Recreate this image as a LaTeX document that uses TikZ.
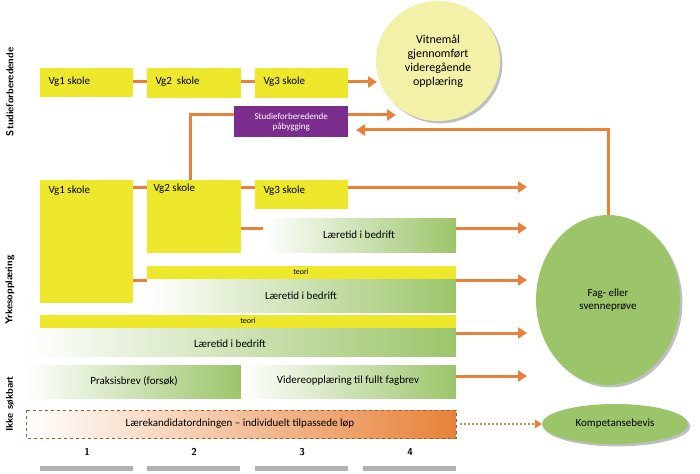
\documentclass[tikz,border=0pt]{standalone}
\usepackage{fontspec}
\setmainfont{Carlito}
\usetikzlibrary{arrows.meta,shadows,shapes.geometric}
\definecolor{yel}{HTML}{EEE82C}
\definecolor{grn}{HTML}{9CC56A}
\definecolor{org}{HTML}{E8823A}
\definecolor{pur}{HTML}{7B2D8E}
\definecolor{lyel}{HTML}{F3F1A8}
\begin{document}
\begin{tikzpicture}[x=1pt,y=-1pt,
 yb/.style={fill=yel,draw=none,anchor=north west,inner sep=0pt},
 gb/.style={left color=white,right color=grn,draw=none},
 ln/.style={draw=org,line width=3pt},
 ar/.style={ln,-{Triangle[length=9pt,width=11pt]}},
 side/.style={rotate=90,font=\sffamily\bfseries},
 txt/.style={font=\fontsize{11}{13}\selectfont}]
\useasboundingbox (0,0) rectangle (700,473);
% top row
\node[yb,minimum width=93pt,minimum height=29pt] (a1) at (40,68) {};
\node[yb,minimum width=94pt,minimum height=30pt] (a2) at (147,68) {};
\node[yb,minimum width=93pt,minimum height=30pt] (a3) at (255,68) {};
\node[txt,anchor=west] at (45,82) {Vg1 skole};
\node[txt,anchor=west] at (152,82) {Vg2\ \ skole};
\node[txt,anchor=west] at (260,82) {Vg3 skole};
\draw[ln] (a1.east|-0,82) -- (a2.west|-0,82);
\draw[ln] (a2.east|-0,82) -- (a3.west|-0,82);
\coordinate (v1) at (377,82);
\draw[ar] (a3.east|-0,82) -- (v1);
\node[ellipse,fill=lyel,minimum width=124pt,minimum height=120pt,drop shadow,align=center,font=\fontsize{12}{14}\selectfont] (vit) at (438,61) {Vitnemål\\gjennomført\\videregående\\opplæring};
% purple
\node[fill=pur,text=white,minimum width=114pt,minimum height=31pt,inner sep=0pt,align=center,font=\fontsize{9}{10}\selectfont,anchor=north west] (pur) at (234,106) {Studieforberedende\\påbygging};
\coordinate (p1) at (396,115);
\coordinate (p2) at (356,130);
% yrke
\node[yb,minimum width=93pt,minimum height=123pt] (b1) at (40,180) {};
\node[yb,minimum width=94pt,minimum height=73pt] (b2) at (147,180) {};
\node[yb,minimum width=93pt,minimum height=29pt] (b3) at (255,180) {};
\node[txt,anchor=west] at (45,191) {Vg1 skole};
\node[txt,anchor=west] at (150,189) {Vg2 skole};
\node[txt,anchor=west] at (260,191) {Vg3 skole};
\draw[ln] (b1.east|-0,187) -- (b2.west|-0,187);
\draw[ln] (b2.east|-0,187) -- (b3.west|-0,187);
\draw[ln] (190,180) |- (pur.west|-0,115);
\draw[ar] (pur.east|-0,115) -- (p1);
\coordinate (e1) at (527,187);
\draw[ar] (b3.east|-0,187) -- (e1);
\shade[gb] (263,218) rectangle (456,252);
\node[txt] (l1) at (359,235) {Læretid i bedrift};
\draw[ln] (241,228) -- (263,228);
\coordinate (e2) at (527,228);
\draw[ar] (456,228) -- (e2);
\fill[yel] (147,266) rectangle (456,279);
\node[font=\footnotesize] at (301,272) {teori};
\shade[gb] (147,279) rectangle (456,312);
\node[txt] (l2) at (301,296) {Læretid i bedrift};
\draw[ln] (133,280) -- (147,280);
\coordinate (e3) at (527,280);
\draw[ar] (456,280) -- (e3);
\fill[yel] (40,315) rectangle (456,328);
\node[font=\footnotesize] at (248,321) {teori};
\shade[gb] (26,328) rectangle (456,356);
\node[txt] (l3) at (230,344) {Læretid i bedrift};
\coordinate (e4) at (527,333);
\draw[ar] (456,333) -- (e4);
\shade[gb] (26,365) rectangle (241,398);
\node[txt] (pb) at (134,381) {Praksisbrev (forsøk)};
\shade[gb] (241,365) rectangle (456,398);
\node[txt] (vo) at (348,381) {Videreopplæring til fullt fagbrev};
\coordinate (e5) at (527,376);
\draw[ar] (456,376) -- (e5);
\shade[left color=white,right color=org] (26,410) rectangle (456,438);
\draw[dashed,draw=org!70!black,line width=1pt] (26,410) rectangle (456,438);
\node[txt] (lk) at (240,424) {Lærekandidatordningen – individuelt tilpassede løp};
\node[ellipse,fill=grn,minimum width=146pt,minimum height=40pt,drop shadow,txt] (kb) at (615,424) {Kompetansebevis};
\draw[org,line width=2pt,dotted,-{Triangle[length=7pt,width=9pt]}] (460,424) -- (kb.west);
\node[ellipse,fill=grn,minimum width=144pt,minimum height=170pt,drop shadow,align=center,txt] (fag) at (608,300) {Fag- eller\\svenneprøve};
\draw[ar] (fag.north) |- (p2);
% labels
\node[side] at (10,92) {Studieforberedende};
\node[side] at (10,290) {Yrkesopplæring};
\node[side] at (10,404) {Ikke søkbart};
\foreach \x/\n in {40/1,147/2,255/3,363/4}{
 \node[font=\sffamily\bfseries] at (\x+47,452) {\n};
 \fill[gray!60] (\x,466) rectangle (\x+93,471);
}
\end{tikzpicture}
\end{document}
